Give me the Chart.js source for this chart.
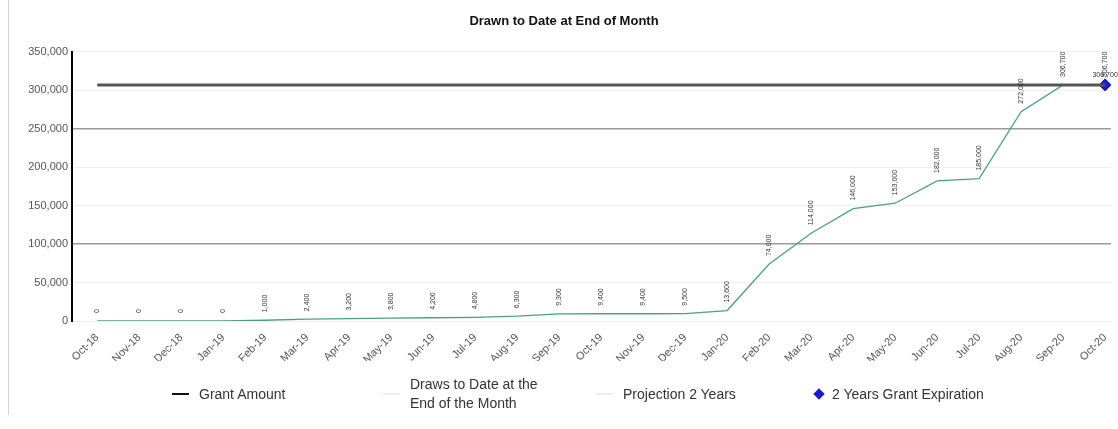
<!DOCTYPE html>
<html>
<head>
<meta charset="utf-8">
<script src="https://cdn.jsdelivr.net/npm/chart.js@4/dist/chart.umd.min.js"></script>
<style>
    html, body { margin: 0; padding: 0; background: #fff; overflow: hidden; }
    #wrap { position: relative; width: 1118px; height: 429px; }
    #frame { position: absolute; left: 8px; top: 0; width: 1px; height: 415px; background: #d4d4d4; }
    #legend { position: absolute; left: 0; top: 372px; width: 1118px; height: 44px;
              font-family: "Liberation Sans", Arial, sans-serif; font-size: 14px; color: #333; }
    .item { position: absolute; display: flex; align-items: center; top: 0; height: 44px; }
    .item .mark { width: 17px; height: 2px; margin-right: 10px; }
    .item .diamond { width: 8px; height: 8px; background: #1a1ad0; transform: rotate(45deg); margin: 0 9px 0 4px; }
    .item .txt { line-height: 19px; }
</style>
</head>
<body>
<div id="wrap">
    <div id="frame"></div>
    <canvas id="drawChart" width="1118" height="429"></canvas>
    <div id="legend"></div>
</div>
<script>
const months = ['Oct-18', 'Nov-18', 'Dec-18', 'Jan-19', 'Feb-19', 'Mar-19', 'Apr-19', 'May-19',
    'Jun-19', 'Jul-19', 'Aug-19', 'Sep-19', 'Oct-19', 'Nov-19', 'Dec-19', 'Jan-20', 'Feb-20',
    'Mar-20', 'Apr-20', 'May-20', 'Jun-20', 'Jul-20', 'Aug-20', 'Sep-20', 'Oct-20'];

const grantAmount = [306700, 306700, 306700, 306700, 306700, 306700, 306700, 306700, 306700,
    306700, 306700, 306700, 306700, 306700, 306700, 306700, 306700, 306700, 306700, 306700,
    306700, 306700, 306700, 306700, 306700];

const drawsToDate = [0, 0, 0, 0, 1000, 2400, 3200, 3800, 4200, 4800, 6300, 9300, 9400, 9400,
    9500, 13600, 74000, 114000, 146000, 153000, 182000, 185000, 272000, 306700, 306700];

const projection = [];

const grantExpiration = [null, null, null, null, null, null, null, null, null, null, null, null,
    null, null, null, null, null, null, null, null, null, null, null, null, 306700];

const yTicks = [0, 50000, 100000, 150000, 200000, 250000, 300000, 350000];
const darkGridValues = [100000, 250000];

const fmt = v => v.toLocaleString('en-US');
const toPoints = arr => arr.map((v, i) => ({ x: i, y: v }));

// rotated value labels over the draws line, flat label over the expiration marker
const valueLabels = {
    id: 'valueLabels',
    afterDatasetsDraw(chart) {
        const ctx = chart.ctx;
        ctx.save();
        ctx.font = '7px "Liberation Sans", Arial, sans-serif';
        ctx.fillStyle = '#333';

        chart.getDatasetMeta(1).data.forEach((pt, i) => {
            ctx.save();
            ctx.translate(pt.x, pt.y - 8);
            ctx.rotate(-Math.PI / 2);
            ctx.textAlign = 'left';
            ctx.textBaseline = 'middle';
            ctx.fillText(fmt(drawsToDate[i]), 0, 0);
            ctx.restore();
        });

        chart.getDatasetMeta(3).data.forEach((pt, i) => {
            if (grantExpiration[i] == null) return;
            ctx.textAlign = 'center';
            ctx.textBaseline = 'bottom';
            ctx.fillText(fmt(grantExpiration[i]), pt.x, pt.y - 6);
        });
        ctx.restore();
    }
};

const ctx = document.getElementById('drawChart').getContext('2d');
const chart = new Chart(ctx, {
    type: 'line',
    data: {
        datasets: [{
            label: 'Grant Amount',
            data: toPoints(grantAmount),
            borderColor: '#555',
            borderWidth: 3,
            pointRadius: 0
        }, {
            label: 'Draws to Date at the End of the Month',
            data: toPoints(drawsToDate),
            borderColor: '#4e9f80',
            borderWidth: 1.3,
            pointRadius: 0
        }, {
            label: 'Projection 2 Years',
            data: toPoints(projection),
            borderColor: '#e6e6e6',
            borderWidth: 1,
            pointRadius: 0
        }, {
            label: '2 Years Grant Expiration',
            data: toPoints(grantExpiration),
            showLine: false,
            pointStyle: 'rectRot',
            pointRadius: 6,
            backgroundColor: '#1a1ad0',
            borderColor: '#1a1ad0'
        }]
    },
    options: {
        responsive: false,
        animation: false,
        layout: { padding: { left: 10, right: 0, top: 0, bottom: 68 } },
        plugins: {
            legend: { display: false },
            tooltip: { enabled: false },
            title: {
                display: true,
                text: 'Drawn to Date at End of Month',
                color: '#111',
                font: { family: '"Liberation Sans", Arial, sans-serif', size: 13, weight: 'bold' },
                padding: { top: 14, bottom: 22 }
            }
        },
        scales: {
            x: {
                type: 'linear',
                min: -0.6,
                max: 24.14,
                afterBuildTicks: scale => { scale.ticks = months.map((m, i) => ({ value: i })); },
                afterFit: scale => { scale.height = 40; },
                grid: { display: false },
                border: { display: false },
                ticks: {
                    autoSkip: false,
                    minRotation: 45,
                    maxRotation: 45,
                    padding: 2,
                    color: '#555',
                    font: { family: '"Liberation Sans", Arial, sans-serif', size: 11 },
                    callback: v => months[v]
                }
            },
            y: {
                min: 0,
                max: 350000,
                afterBuildTicks: scale => { scale.ticks = yTicks.map(v => ({ value: v })); },
                afterFit: scale => { scale.width = 62; },
                grid: {
                    color: c => darkGridValues.includes(c.tick.value) ? '#9a9a9a' : '#efefef',
                    lineWidth: c => darkGridValues.includes(c.tick.value) ? 1.5 : 1,
                    drawTicks: false
                },
                border: { color: '#000', width: 2 },
                ticks: {
                    padding: 4,
                    color: '#555',
                    font: { family: '"Liberation Sans", Arial, sans-serif', size: 11 },
                    callback: v => fmt(v)
                }
            }
        }
    },
    plugins: [valueLabels]
});

// legend below the plot
const legendItems = [
    { left: 172, text: 'Grant Amount', mark: 'line', color: '#111' },
    { left: 383, text: 'Draws to Date at the<br>End of the Month', mark: 'line', color: '#ececec' },
    { left: 596, text: 'Projection 2 Years', mark: 'line', color: '#ececec' },
    { left: 811, text: '2 Years Grant Expiration', mark: 'diamond', color: '#1a1ad0' }
];
const legend = document.getElementById('legend');
legendItems.forEach(item => {
    const el = document.createElement('div');
    el.className = 'item';
    el.style.left = item.left + 'px';
    const mark = item.mark === 'diamond'
        ? '<span class="diamond"></span>'
        : `<span class="mark" style="background:${item.color}"></span>`;
    el.innerHTML = `${mark}<span class="txt">${item.text}</span>`;
    legend.appendChild(el);
});
</script>
</body>
</html>
